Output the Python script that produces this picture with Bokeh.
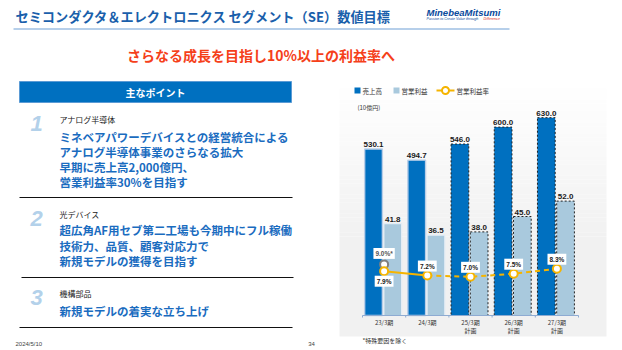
from bokeh.plotting import figure
from bokeh.models import Range1d, ColumnDataSource
from bokeh.core.properties import value
from bokeh.embed import file_html
from bokeh.resources import INLINE
import numpy as np

# ---------------- data ----------------
periods = ["23/3期", "24/3期", "25/3期", "26/3期", "27/3期"]
plan_tags = ["", "", "計画", "計画", "計画"]
sales = [530.1, 494.7, 546.0, 600.0, 630.0]          # 売上高 (10億円)
op_profit = [41.8, 36.5, 38.0, 45.0, 52.0]           # 営業利益 (10億円)
op_margin = [7.9, 7.2, 7.0, 7.5, 8.3]                # 営業利益率 (%)
margin_ex_special = [9.0]                            # 23/3期 特殊要因を除く
is_plan = [False, False, True, True, True]

title_text = "セミコンダクタ＆エレクトロニクス セグメント（SE）数値目標"
subtitle_text = "さらなる成長を目指し10%以上の利益率へ"
points_header = "主なポイント"
point_nums = ["1", "2", "3"]
point_cats = ["アナログ半導体", "光デバイス", "機構部品"]
point_lines = [
    ["ミネベアパワーデバイスとの経営統合による", "アナログ半導体事業のさらなる拡大",
     "早期に売上高2,000億円、", "営業利益率30%を目指す"],
    ["超広角AF用セブ第二工場も今期中にフル稼働", "技術力、品質、顧客対応力で",
     "新規モデルの獲得を目指す"],
    ["新規モデルの着実な立ち上げ"],
]
legend_labels = ["売上高", "営業利益", "営業利益率"]
unit_label = "(10億円)"
footnote = "*特殊要因を除く"
date_text = "2024/5/10"
page_no = "34"

# ---------------- style ----------------
W, H = 622, 350
JP = value("Noto Sans CJK JP")
LAT = value("Liberation Sans")
DARK = "#0070c0"
LIGHT = "#a9c9dd"
ORANGE = "#f5b400"
BLUE_TXT = "#1a6cbf"

p = figure(width=W, height=H, x_range=Range1d(0, W), y_range=Range1d(H, 0),
           output_backend="svg", toolbar_location=None, min_border=0,
           x_axis_location=None, y_axis_location=None,
           background_fill_color="white", border_fill_color="white")
p.grid.visible = False
p.outline_line_color = None

# ---------- chart scales (mapped onto the right-hand region of the slide) ----------
CAT0_PX, CAT_W = 383.6, 43.2
BASE_PX = 315.0
SALES_K = 0.314
PROFIT_K = 2.2
MARGIN_ZERO_PX, MARGIN_K = 319.7, 6.2


def yr(zero_px, k):
    return Range1d(start=(zero_px - H) / k, end=zero_px / k)


p.extra_x_ranges = {"cat": Range1d(start=-CAT0_PX / CAT_W, end=(W - CAT0_PX) / CAT_W)}
p.extra_y_ranges = {"sales": yr(BASE_PX, SALES_K),
                    "profit": yr(BASE_PX, PROFIT_K),
                    "margin": yr(MARGIN_ZERO_PX, MARGIN_K)}

# chart background (soft vertical gradient)
n = 40
ys = np.linspace(84, 236, n + 1)
cols = []
for i in range(n):
    c = int(round(255 - 14 * (i + 0.5) / n))
    cols.append("#%02x%02x%02x" % (c, c, c))
p.quad(left=[339] * n, right=[606] * n, top=list(ys[:-1]), bottom=list(ys[1:]),
       fill_color=cols, line_color=None)
p.quad(left=[339], right=[606], top=[236], bottom=[336], fill_color="#f1f1f1", line_color=None)

idx = np.arange(len(periods))
act_i = [i for i in idx if not is_plan[i]]
plan_i = [i for i in idx if is_plan[i]]

# bars
for sel, plan in ((act_i, False), (plan_i, True)):
    sd = dict(x=[idx[i] - 0.245 for i in sel], top=[sales[i] for i in sel])
    pr = dict(x=[idx[i] + 0.2 for i in sel], top=[op_profit[i] for i in sel])
    if plan:
        kw = dict(line_color="#222222", line_dash="2 2", line_width=1)
        kw2 = kw
    else:
        kw = dict(line_color="#b9cee8", line_width=1.4)
        kw2 = dict(line_color="#e4edf5", line_width=1.2)
    p.vbar(x="x", top="top", bottom=0, width=0.41, source=ColumnDataSource(sd),
           fill_color=DARK, x_range_name="cat", y_range_name="sales", **kw)
    p.vbar(x="x", top="top", bottom=0, width=0.41, source=ColumnDataSource(pr),
           fill_color=LIGHT, x_range_name="cat", y_range_name="profit", **kw2)

# bar value labels
p.text(x=list(idx - 0.245), y=sales, text=[f"{v:.1f}" for v in sales],
       x_range_name="cat", y_range_name="sales", text_font=LAT, text_font_style="bold",
       text_font_size="8px", text_color="#1a1a1a", text_align="center",
       text_baseline="bottom", y_offset=-2)
p.text(x=list(idx + 0.2), y=op_profit, text=[f"{v:.1f}" for v in op_profit],
       x_range_name="cat", y_range_name="profit", text_font=LAT, text_font_style="bold",
       text_font_size="8px", text_color="#1a1a1a", text_align="center",
       text_baseline="bottom", y_offset=-2)

# category axis
p.segment(x0=[-0.5], x1=[len(periods) - 0.5], y0=[BASE_PX], y1=[BASE_PX],
          x_range_name="cat", line_color="#8eabd2", line_width=1.2)
edges = list(np.arange(len(periods) + 1) - 0.5)
p.segment(x0=edges, x1=edges, y0=[BASE_PX] * len(edges), y1=[BASE_PX + 2] * len(edges),
          x_range_name="cat", line_color="#8eabd2", line_width=1)
p.text(x=list(idx), y=[322] * len(idx), text=periods, x_range_name="cat",
       text_font=JP, text_font_size="6px", text_color="#333333",
       text_align="center", text_baseline="middle")
p.text(x=list(idx), y=[329.5] * len(idx), text=plan_tags, x_range_name="cat",
       text_font=JP, text_font_size="6px", text_color="#333333",
       text_align="center", text_baseline="middle")

# margin line
seg_solid = act_i
seg_dash = [act_i[-1]] + plan_i
p.line(x=[idx[i] for i in seg_solid], y=[op_margin[i] for i in seg_solid],
       x_range_name="cat", y_range_name="margin", line_color=ORANGE, line_width=2)
p.line(x=[idx[i] for i in seg_dash], y=[op_margin[i] for i in seg_dash],
       x_range_name="cat", y_range_name="margin", line_color=ORANGE, line_width=2,
       line_dash="5 4")
p.scatter(x=[0], y=margin_ex_special, x_range_name="cat", y_range_name="margin",
          size=8, fill_color="white", line_color="#808080", line_width=2)
p.scatter(x=list(idx), y=op_margin, x_range_name="cat", y_range_name="margin",
          size=8, fill_color="white", line_color=ORANGE, line_width=2)

offs = [10] + [-9.5] * (len(idx) - 1)
p.text(x=list(idx), y=op_margin, text=[f"{v:.1f}%" for v in op_margin],
       x_range_name="cat", y_range_name="margin", y_offset=offs,
       text_font=LAT, text_font_style="bold", text_font_size="6.5px",
       text_color="#1a1a1a", text_align="center", text_baseline="middle",
       background_fill_color="white", padding=2)
p.text(x=[0], y=margin_ex_special, text=[f"{margin_ex_special[0]:.1f}%*"],
       x_range_name="cat", y_range_name="margin", y_offset=-11,
       text_font=LAT, text_font_style="bold", text_font_size="6.5px",
       text_color="#555555", text_align="center", text_baseline="middle",
       background_fill_color="white", padding=2)

# legend
p.quad(left=[354], right=[360], top=[87], bottom=[93], fill_color=DARK, line_color=None)
p.quad(left=[393], right=[399], top=[87], bottom=[93], fill_color=LIGHT, line_color=None)
p.line(x=[436, 454], y=[90, 90], line_color=ORANGE, line_width=2)
p.scatter(x=[445], y=[90], size=7, fill_color="white", line_color=ORANGE, line_width=2)
p.text(x=[362, 401, 456], y=[90, 90, 90], text=legend_labels, text_font=JP,
       text_font_size="6.5px", text_color="#333333", text_baseline="middle")
p.text(x=[357], y=[107], text=[unit_label], text_font=JP, text_font_size="6px",
       text_color="#333333", text_baseline="middle")
p.text(x=[362], y=[339.5], text=[footnote], text_font=JP, text_font_size="6px",
       text_color="#333333", text_baseline="middle")

# ---------- slide header ----------
p.text(x=[15], y=[16], text=[title_text], text_font=JP, text_font_style="bold",
       text_font_size="13.2px", text_color="#1a5fab", text_baseline="middle")
p.segment(x0=[13], x1=[509], y0=[28.5], y1=[28.5], line_color="#6fa0d6", line_width=1.2)
p.text(x=[426], y=[12], text=["MinebeaMitsumi"], text_font=LAT,
       text_font_style="bold italic", text_font_size="9.5px", text_color="#0a4a9c",
       text_baseline="middle")
p.text(x=[426, 483], y=[18, 18], text=["Passion to Create Value through", "Difference"],
       text_font=LAT, text_font_style="italic", text_font_size="3.6px",
       text_color=["#0a4a9c", "#e03020"], text_baseline="middle")
p.text(x=[260.5], y=[54], text=[subtitle_text], text_font=JP, text_font_style="bold",
       text_font_size="14px", text_color="#f5401a", text_align="center",
       text_baseline="middle")

# ---------- left panel ----------
p.quad(left=[19], right=[291], top=[81], bottom=[102], fill_color=DARK, line_color="#5b9bd5")
p.text(x=[155], y=[91.5], text=[points_header], text_font=JP, text_font_style="bold",
       text_font_size="10px", text_color="white", text_align="center", text_baseline="middle")

num_y = [123, 218, 297]
cat_y = [119, 214, 293]
line_y = [[136, 151, 166, 181], [229.5, 245, 260], [310]]
for k in range(3):
    p.text(x=[36], y=[num_y[k]], text=[point_nums[k]], text_font=LAT,
           text_font_style="bold italic", text_font_size="22px", text_color="#b3d1ea",
           text_align="center", text_baseline="middle")
    p.text(x=[59], y=[cat_y[k]], text=[point_cats[k]], text_font=JP,
           text_font_size="8px", text_color="#222222", text_baseline="middle")
    p.text(x=[59] * len(point_lines[k]), y=line_y[k], text=point_lines[k], text_font=JP,
           text_font_style="bold", text_font_size="11.5px", text_color=BLUE_TXT,
           text_baseline="middle")
p.segment(x0=[19, 21, 19], x1=[292, 293, 292], y0=[197, 277, 327], y1=[197, 277, 327],
          line_color="#111111", line_width=1)

p.text(x=[15], y=[343], text=[date_text], text_font=LAT, text_font_size="6px",
       text_color="#444444", text_baseline="middle")
p.text(x=[311], y=[343], text=[page_no], text_font=LAT, text_font_size="6px",
       text_color="#444444", text_baseline="middle", text_align="center")

open("out.html", "w").write(file_html(p, INLINE))
